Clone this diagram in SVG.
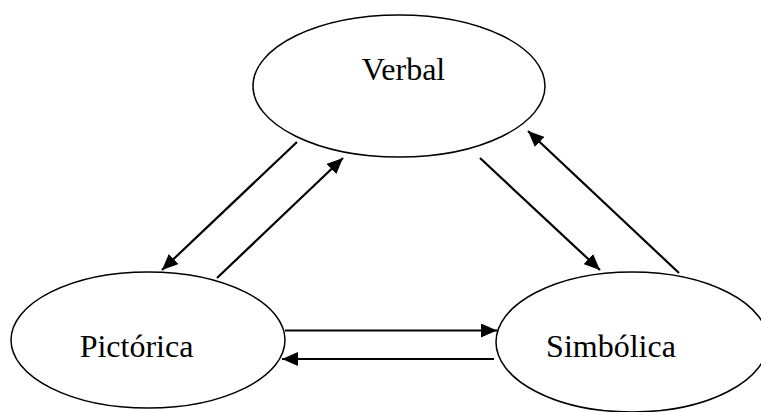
<svg xmlns="http://www.w3.org/2000/svg" width="761" height="412" viewBox="0 0 761 412">
<style>
.node ellipse{fill:#fff;stroke:#000;stroke-width:1.5}
.node text{font-family:"Liberation Serif","Times New Roman",serif;font-size:32px;fill:#000;text-anchor:middle}
.conn line{stroke:#000;stroke-width:2.2;fill:none}
</style>
<defs>
<marker id="ah" markerUnits="userSpaceOnUse" markerWidth="17" markerHeight="14" refX="16" refY="7" orient="auto">
<path d="M0,0 L16,7 L0,14 z" fill="#000"/>
</marker>
</defs>
<rect width="761" height="412" fill="#fff"/>
<g id="verbal" class="node">
<ellipse cx="399" cy="86" rx="146" ry="71"/>
<text x="403.5" y="80">Verbal</text>
</g>
<g id="pictorica" class="node">
<ellipse cx="148" cy="340" rx="137" ry="68"/>
<text x="136.5" y="357">Pictórica</text>
</g>
<g id="simbolica" class="node">
<ellipse cx="632" cy="342" rx="136" ry="70"/>
<text x="611" y="357">Simbólica</text>
</g>
<g id="connectors" class="conn">
<line x1="297" y1="142" x2="162" y2="270" marker-end="url(#ah)"/>
<line x1="217" y1="278" x2="343" y2="158" marker-end="url(#ah)"/>
<line x1="480" y1="158" x2="600" y2="270" marker-end="url(#ah)"/>
<line x1="679" y1="273" x2="528" y2="131" marker-end="url(#ah)"/>
<line x1="285" y1="330.5" x2="497" y2="330.5" marker-end="url(#ah)"/>
<line x1="494" y1="359" x2="282" y2="359" marker-end="url(#ah)"/>
</g>
</svg>
